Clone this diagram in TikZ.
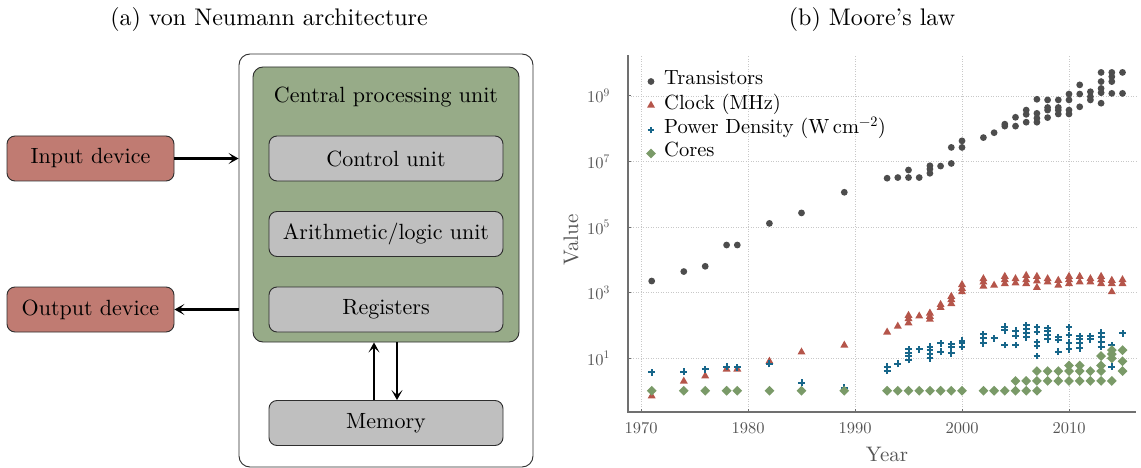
\documentclass[tikz,border=0pt]{standalone}
\usepackage{fontspec}
\setmainfont{lmroman10-regular.otf}
\usetikzlibrary{arrows.meta,calc}

\definecolor{devred}{HTML}{C07B72}
\definecolor{cpugreen}{HTML}{97AB88}
\definecolor{unitgray}{HTML}{BFBFBF}
\definecolor{edgecol}{HTML}{2E2E2E}
\definecolor{trcol}{HTML}{4D4D4D}
\definecolor{clcol}{HTML}{B5554A}
\definecolor{pwcol}{HTML}{17668A}
\definecolor{cocol}{HTML}{7A9A68}
\definecolor{axcol}{HTML}{707070}
\definecolor{labcol}{HTML}{555555}
\definecolor{gridcol}{HTML}{C8C8C8}

\begin{document}
\begin{tikzpicture}[x=1pt,y=-1pt,
  boxfont/.style={font=\fontsize{22}{26}\selectfont},
  unitbox/.style={boxfont, draw=edgecol, line width=0.9pt, rounded corners=8pt,
    fill=unitgray, minimum width=234pt, minimum height=45pt, inner sep=0pt},
  devbox/.style={unitbox, fill=devred, minimum width=167pt},
  flow/.style={line width=2.2pt, -{Stealth[length=10pt,width=11pt,inset=5pt]}},
  titlefont/.style={font=\fontsize{24}{28}\selectfont},
  ticklab/.style={font=\fontsize{16.5}{19}\selectfont, text=labcol, inner sep=0pt},
  axlab/.style={font=\fontsize{21}{25}\selectfont, text=labcol, inner sep=0pt},
  legtxt/.style={font=\fontsize{20.5}{24}\selectfont, inner sep=0pt, anchor=base west},
  gridline/.style={gridcol, line width=0.6pt, dash pattern=on 1pt off 1.5pt},
  trmk/.pic={\fill[trcol] (0,0) circle (3.4pt);},
  clmk/.pic={\fill[clcol] (0pt,4.3pt) -- (-4pt,-2.7pt) -- (4pt,-2.7pt) -- cycle;},
  pwmk/.pic={\draw[pwcol, line width=2pt] (-3.4pt,0pt) -- (3.4pt,0pt) (0pt,-3.4pt) -- (0pt,3.4pt);},
  comk/.pic={\fill[cocol] (0pt,4.9pt) -- (4.9pt,0pt) -- (0pt,-4.9pt) -- (-4.9pt,0pt) -- cycle;}
]
\useasboundingbox (0,0) rectangle (1141,468);

% ---------------- (a) von Neumann architecture ----------------
\node[titlefont] (titleA) at (269,20) {(a) von Neumann architecture};

\node[draw=edgecol, line width=0.9pt, rounded corners=11pt, fill=white,
      minimum width=294pt, minimum height=413pt, inner sep=0pt] (sys) at (386,260.5) {};
\node[draw=edgecol, line width=0.9pt, rounded corners=10pt, fill=cpugreen,
      minimum width=266pt, minimum height=275pt, inner sep=0pt] (cpu) at (386,204.5) {};
\node[boxfont] (cpulab) at (386,97) {Central processing unit};

\node[unitbox] (ctrl) at (386,158.5) {Control unit};
\node[unitbox] (alu)  at (386,234)   {Arithmetic/logic unit};
\node[unitbox] (regs) at (386,309.5) {Registers};
\node[unitbox] (mem)  at (386,423)   {Memory};

\node[devbox] (inp) at (90.5,158.5) {Input device};
\node[devbox] (outp) at (90.5,309.5) {Output device};

\draw[flow] (inp.east) -- (inp.east -| sys.west);
\draw[flow] (outp.east -| sys.west) -- (outp.east);
\draw[flow] ([xshift=-12pt]mem.north) -- ([xshift=-12pt]mem.north |- cpu.south);
\draw[flow] ([xshift=11pt]mem.north |- cpu.south) -- ([xshift=11pt]mem.north);

% ---------------- (b) Moore's law ----------------
\node[titlefont] (titleB) at (872,20) {(b) Moore’s law};

% plot frame: x = years after 1970, y = log10 of the value
\begin{scope}[shift={(641,390.75)}, x=10.7pt, y=32.75pt]
  \foreach \t in {0,10,...,40}
    \draw[gridline] (\t,-0.649) -- (\t,10.25);
  \foreach \l in {1,3,5,7,9}
    \draw[gridline] (-1.215,\l) -- (46.26,\l);

  \draw[axcol, line width=1.4pt] (-1.215,10.25) -- (-1.215,-0.649) -- (46.26,-0.649);
  \foreach \t in {0,10,...,40}
    \draw[axcol, line width=1pt] (\t,-0.649) -- ++(0pt,3pt);
  \foreach \l in {1,3,5,7,9}
    \draw[axcol, line width=1pt] (-1.215,\l) -- ++(3pt,0pt);

  \foreach \t/\yr in {0/1970,10/1980,20/1990,30/2000,40/2010}
    \node[ticklab, anchor=base] (xt\yr) at ([yshift=-21pt]\t,-0.649) {\yr};
  \foreach \l in {1,3,5,7,9}
    \node[ticklab, anchor=base east] (yt\l) at ([xshift=-18pt,yshift=-7pt]-1.215,\l) {10\textsuperscript{\l}};

  % Transistors
  \foreach \yr/\v in {1971/3.35,1974/3.64,1976/3.80,1978/4.45,1979/4.45,1982/5.11,1985/5.43,1989/6.06,
      1993/6.49,1994/6.51,1995/6.51,1995/6.74,1996/6.51,1997/6.64,1997/6.77,1997/6.87,1998/6.86,
      1999/6.94,1999/7.43,2000/7.43,2000/7.63,2002/7.73,2003/7.88,2004/8.08,2004/8.14,2005/8.08,
      2005/8.35,2006/8.20,2006/8.44,2006/8.57,2007/8.20,2007/8.32,2007/8.47,2007/8.90,2008/8.34,
      2008/8.57,2008/8.65,2008/8.88,2009/8.45,2009/8.57,2009/8.65,2009/8.88,2010/8.45,2010/8.57,
      2010/8.88,2010/9.06,2011/8.67,2011/9.06,2011/9.34,2012/8.88,2012/8.98,2012/9.13,2013/8.78,
      2013/9.10,2013/9.23,2013/9.44,2013/9.72,2014/9.08,2014/9.44,2014/9.59,2014/9.72,2015/9.08,2015/9.72}
    \pic at ({\yr-1970},\v) {trmk};

  % Clock (MHz)
  \foreach \yr/\v in {1971/-0.15,1974/0.30,1976/0.46,1978/0.67,1979/0.67,1982/0.91,1985/1.19,1989/1.40,
      1993/1.80,1994/1.98,1995/2.08,1995/2.21,1995/2.31,1996/2.29,1997/2.19,1997/2.28,1997/2.38,
      1998/2.55,1998/2.64,1999/2.67,1999/2.79,1999/2.89,2000/3.03,2000/3.13,2000/3.25,2002/3.20,
      2002/3.33,2002/3.43,2003/3.23,2004/3.28,2004/3.40,2004/3.50,2005/3.30,2005/3.43,2006/3.28,
      2006/3.40,2006/3.53,2007/3.16,2007/3.36,2007/3.50,2008/3.33,2008/3.43,2009/3.23,2009/3.38,
      2010/3.28,2010/3.40,2010/3.50,2011/3.33,2011/3.50,2012/3.33,2012/3.43,2013/3.28,2013/3.40,
      2013/3.50,2014/3.03,2014/3.28,2014/3.38,2015/3.28,2015/3.40}
    \pic at ({\yr-1970},\v) {clmk};

  % Power density
  \foreach \yr/\v in {1971/0.56,1974/0.58,1976/0.65,1978/0.74,1979/0.72,1982/0.82,1985/0.25,1989/0.09,
      1993/0.61,1993/0.74,1994/0.82,1995/0.94,1995/1.06,1995/1.16,1995/1.26,1996/1.26,1997/0.99,
      1997/1.12,1997/1.24,1997/1.35,1998/1.19,1998/1.45,1999/1.14,1999/1.33,1999/1.42,2000/1.35,
      2000/1.45,2000/1.53,2002/1.45,2002/1.60,2002/1.73,2003/1.60,2004/1.40,2004/1.85,2004/1.96,
      2005/1.40,2005/1.67,2005/1.83,2006/1.63,2006/1.75,2006/1.88,2006/2.01,2007/1.06,2007/1.37,
      2007/1.49,2007/1.80,2007/1.94,2008/1.57,2008/1.70,2008/1.83,2008/1.91,2009/1.19,2009/1.55,
      2009/1.63,2010/1.26,2010/1.47,2010/1.70,2010/1.94,2011/1.30,2011/1.45,2011/1.57,2011/1.67,
      2012/1.57,2012/1.67,2013/1.35,2013/1.50,2013/1.65,2013/1.77,2014/0.74,2014/1.40,2015/1.75}
    \pic at ({\yr-1970},\v) {pwmk};

  % Cores
  \foreach \yr/\v in {1971/0,1974/0,1976/0,1978/0,1979/0,1982/0,1985/0,1989/0,1993/0,1994/0,1995/0,
      1996/0,1997/0,1998/0,1999/0,2000/0,2002/0,2003/0,2004/0,2005/0,2005/0.30,2006/0,2006/0.30,
      2007/0,2007/0.30,2007/0.60,2008/0.30,2008/0.60,2009/0.30,2009/0.60,2010/0.30,2010/0.60,
      2010/0.77,2011/0.30,2011/0.60,2011/0.77,2012/0.30,2012/0.60,2013/0.30,2013/0.60,2013/0.77,
      2013/1.06,2014/0.30,2014/0.99,2014/1.12,2014/1.24,2015/0.60,2015/0.90,2015/1.24}
    \pic at ({\yr-1970},\v) {comk};
\end{scope}

\node[axlab] (xlab) at (887,454) {Year};
\node[axlab, rotate=90] (ylab) at (571,240) {Value};

% legend
\pic at (651,81.5) {trmk};
\pic at (651,105) {clmk};
\pic at (651,130) {pwmk};
\pic at (651,153.5) {comk};
\node[legtxt] (lgtr) at (664,85)    {Transistors};
\node[legtxt] (lgcl) at (664,109.5) {Clock (MHz)};
\node[legtxt] (lgpw) at (664,134)   {Power Density (W\,cm\textsuperscript{−2})};
\node[legtxt] (lgco) at (664,157)   {Cores};
\end{tikzpicture}
\end{document}
